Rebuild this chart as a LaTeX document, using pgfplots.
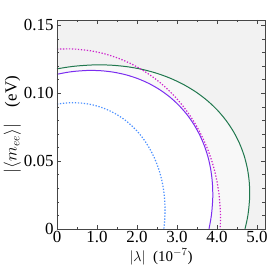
\documentclass[border=0pt]{standalone}
\usepackage{pgfplots}
\usepackage{pgfplotstable}
\pgfplotsset{compat=1.18}
\usepackage{fontspec}
\setmainfont{Liberation Serif}
\definecolor{cgreen}{RGB}{32,120,78}
\definecolor{cpurple}{RGB}{123,45,240}
\definecolor{cmag}{RGB}{204,34,204}
\definecolor{cblue}{RGB}{74,144,255}
\definecolor{bgout}{RGB}{242,242,242}
\definecolor{bgmid}{RGB}{248,248,248}
\definecolor{axc}{RGB}{70,70,70}
\pgfplotstableread{
x y
0 0.118
0.282 0.11935
0.533 0.12022
0.948 0.12093
1.356 0.12071
1.754 0.11958
2.139 0.11755
2.507 0.11461
2.856 0.11080
3.183 0.10614
3.486 0.10070
3.763 0.09447
4.011 0.08753
4.228 0.07992
4.413 0.07170
4.565 0.06293
4.682 0.05369
4.763 0.04404
4.808 0.03405
4.817 0.02381
4.788 0.01338
4.754 0.00708
4.700 0
}\green
\pgfplotstableread{
x y
0 0.114
0.228 0.11530
0.431 0.11614
0.767 0.11683
1.097 0.11662
1.418 0.11553
1.729 0.11357
2.027 0.11073
2.309 0.10705
2.574 0.10254
2.819 0.09729
3.042 0.09127
3.243 0.08457
3.418 0.07721
3.568 0.06927
3.691 0.06080
3.786 0.05187
3.851 0.04254
3.887 0.03290
3.894 0.02301
3.871 0.01293
3.843 0.00684
3.800 0
}\purple
\pgfplotstableread{
x y
0 0.1325
0.265 0.13274
0.478 0.13251
0.830 0.13135
1.176 0.12919
1.513 0.12603
1.838 0.12193
2.149 0.11688
2.444 0.11096
2.720 0.10420
2.976 0.09663
3.209 0.08832
3.417 0.07937
3.599 0.06979
3.754 0.05968
3.881 0.04913
3.978 0.03819
4.045 0.02696
4.080 0.01552
4.087 0.00861
4.080 0
}\magenta
\pgfplotstableread{
x y
0 0.092
0.203 0.09279
0.437 0.09304
0.668 0.09260
0.893 0.09144
1.112 0.08959
1.322 0.08705
1.522 0.08386
1.711 0.08002
1.887 0.07559
2.048 0.07056
2.194 0.06501
2.322 0.05895
2.434 0.05245
2.526 0.04556
2.600 0.03831
2.654 0.03077
2.687 0.02301
2.700 0.01506
2.693 0.00699
2.670 0
}\blue
\begin{document}
\begin{tikzpicture}
\begin{axis}[
  name=ax,
  scale only axis,
  width=208bp, height=209bp,
  xmin=0, xmax=5.2, ymin=0, ymax=0.154,
  xtick={0,1,2,3,4,5},
  xticklabels={0,1.0,2.0,3.0,4.0,5.0},
  ytick={0,0.05,0.10,0.15},
  yticklabels={0,0.05,0.10,0.15},
  minor xtick={0.5,1.5,2.5,3.5,4.5},
  minor ytick={0.01,0.02,0.03,0.04,0.06,0.07,0.08,0.09,0.11,0.12,0.13,0.14},
  major tick length=4bp, minor tick length=2.5bp,
  tick style={axc, line width=0.7pt},
  axis line style={axc, line width=0.9pt},
  axis background/.style={fill=bgout},
  axis on top,
  /pgf/number format/assume math mode=true,
  tick label style={font=\fontsize{17}{18}\selectfont},
  xticklabel style={yshift=1bp},
  xlabel={$|\lambda|$\ \ (10$^{-7}$)},
  ylabel={$\left|\langle m_{ee}\rangle\right|$\quad(eV)},
  xlabel style={font=\fontsize{15}{17}\selectfont, yshift=1bp},
  ylabel style={font=\fontsize{17}{20}\selectfont, yshift=-4bp},
]
% shading
\addplot[draw=none, fill=bgmid, smooth] table {\green} \closedcycle;
\addplot[draw=none, fill=white, smooth] table {\purple} \closedcycle;
% curves
\addplot[cgreen, line width=1pt, smooth] table {\green};
\addplot[cpurple, line width=1pt, smooth] table {\purple};
\addplot[cmag, line width=1.2pt, dash pattern=on 1.3pt off 1.7pt, smooth] table {\magenta};
\addplot[cblue, line width=1.2pt, dash pattern=on 1.3pt off 1.7pt, smooth] table {\blue};
\end{axis}
\pgfresetboundingbox
\path ([shift={(-57bp,-44bp)}]ax.south west) rectangle ([shift={(5bp,20bp)}]ax.north east);
\end{tikzpicture}
\end{document}
